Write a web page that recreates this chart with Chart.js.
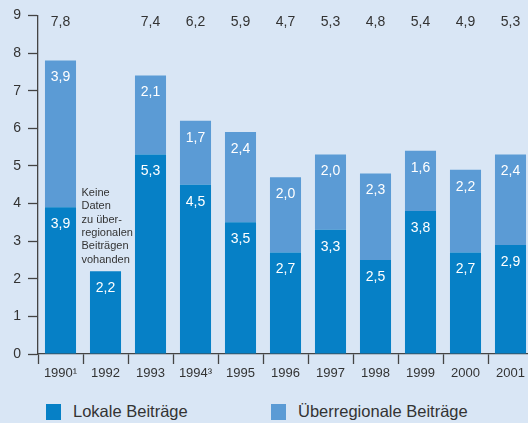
<!DOCTYPE html>
<html>
<head>
<meta charset="utf-8">
<script src="https://cdn.jsdelivr.net/npm/chart.js@4"></script>
<style>
  html, body { margin: 0; padding: 0; background: #d9e6f5; overflow: hidden; }
  #wrap { position: relative; width: 540px; height: 423px; }
  #chartBox { position: absolute; left: 0; top: 0; width: 540px; height: 395px; }
  .leg { position: absolute; top: 402px; font-family: "Liberation Sans", Arial, sans-serif; font-size: 16.5px; color: #333; }
  .leg span { position: absolute; left: 0; top: 2px; width: 15px; height: 16px; }
  .leg b { font-weight: normal; position: absolute; left: 27px; top: 0; white-space: nowrap; }
</style>
</head>
<body>
<div id="wrap">
  <div id="chartBox"><canvas id="barChart"></canvas></div>
  <div class="leg" style="left:46px"><span style="background:#0680c6"></span><b>Lokale Beiträge</b></div>
  <div class="leg" style="left:271px"><span style="background:#5b9bd5"></span><b>Überregionale Beiträge</b></div>
</div>
<script>
//DATA
let years = ["1990¹", "1992", "1993", "1994³", "1995", "1996", "1997", "1998", "1999", "2000", "2001"];
let lokal = [3.9, 2.2, 5.3, 4.5, 3.5, 2.7, 3.3, 2.5, 3.8, 2.7, 2.9];
let ueberregional = [3.9, null, 2.1, 1.7, 2.4, 2.0, 2.0, 2.3, 1.6, 2.2, 2.4];
let totals = [7.8, null, 7.4, 6.2, 5.9, 4.7, 5.3, 4.8, 5.4, 4.9, 5.3];
let yTicks = [0, 1, 2, 3, 4, 5, 6, 7, 8, 9];
let noteLines = ["Keine", "Daten", "zu über-", "regionalen", "Beiträgen", "vohanden"];

let fontFam = "'Liberation Sans', Arial, sans-serif";
let fmt = (v) => v.toFixed(1).replace(".", ",");

//labels inside the bars, totals on top, note for 1992
let labelPlugin = {
  id: "labels",
  afterDatasetsDraw(chart) {
    let ctx = chart.ctx;
    let yScale = chart.scales.y;
    ctx.save();
    ctx.textAlign = "center";
    ctx.textBaseline = "middle";
    ctx.font = "14px " + fontFam;
    chart.data.datasets.forEach((ds, di) => {
      let meta = chart.getDatasetMeta(di);
      meta.data.forEach((bar, i) => {
        if (ds.data[i] == null) return;
        ctx.fillStyle = "#ffffff";
        ctx.fillText(fmt(ds.data[i]), bar.x, bar.y + 17);
      });
    });
    let meta0 = chart.getDatasetMeta(0);
    ctx.fillStyle = "#333333";
    for (let i = 0; i < totals.length; i++) {
      if (totals[i] == null) continue;
      ctx.fillText(fmt(totals[i]), meta0.data[i].x, yScale.getPixelForValue(8.83));
    }
    ctx.textAlign = "left";
    ctx.font = "11px " + fontFam;
    let x0 = chart.scales.x.getPixelForValue(1) - 24;
    for (let k = 0; k < noteLines.length; k++) {
      ctx.fillText(noteLines[k], x0, 193 + k * 13.3);
    }
    ctx.restore();
  },
};

new Chart(document.getElementById("barChart"), {
  type: "bar",
  data: {
    labels: years,
    datasets: [
      {
        label: "Lokale Beiträge",
        data: lokal,
        backgroundColor: "#0680c6",
        barPercentage: 0.69,
        categoryPercentage: 1,
      },
      {
        label: "Überregionale Beiträge",
        data: ueberregional,
        backgroundColor: "#5b9bd5",
        barPercentage: 0.69,
        categoryPercentage: 1,
      },
    ],
  },
  options: {
    responsive: true,
    maintainAspectRatio: false,
    animation: false,
    layout: { padding: { top: 15, right: 7, left: 0, bottom: 0 } },
    plugins: { legend: { display: false }, tooltip: { enabled: false } },
    scales: {
      x: {
        stacked: true,
        afterFit: (s) => { s.height = 41; },
        grid: {
          offset: true,
          drawOnChartArea: false,
          tickLength: 10,
          tickColor: "#444444",
          tickWidth: 1.3,
        },
        border: { color: "#444444", width: 1.3 },
        ticks: { color: "#333333", font: { family: fontFam, size: 13 }, padding: 2, maxRotation: 0 },
      },
      y: {
        stacked: true,
        min: 0,
        max: 9,
        afterFit: (s) => { s.width = 38; },
        afterBuildTicks: (s) => { s.ticks = yTicks.map((v) => ({ value: v })); },
        grid: {
          drawOnChartArea: false,
          tickLength: 10,
          tickColor: "#444444",
          tickWidth: 1.3,
        },
        border: { color: "#444444", width: 1.3 },
        ticks: { color: "#333333", font: { family: fontFam, size: 14 }, padding: 7 },
      },
    },
  },
  plugins: [labelPlugin],
});
</script>
</body>
</html>
